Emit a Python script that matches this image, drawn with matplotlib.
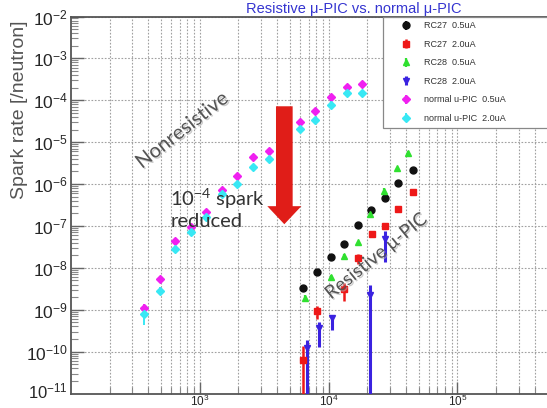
import matplotlib
matplotlib.use("Agg")
import matplotlib.pyplot as plt
from matplotlib.ticker import LogLocator, NullFormatter, FixedLocator, LogFormatterSciNotation
import matplotlib.patheffects as pe
import math

plt.rcParams['font.family'] = ['Liberation Sans', 'DejaVu Sans']
plt.rcParams['mathtext.default'] = 'regular'

# ---------------- data ----------------
# normal (non-resistive) u-PIC
x_norm = [370, 490, 645, 850, 1130, 1490, 1950, 2590, 3440, 6030, 7900, 10400, 13900, 18200]
y_norm05 = [1.1e-9, 5.3e-9, 4.4e-8, 9.2e-8, 2.2e-7, 7.2e-7, 1.6e-6, 4.4e-6, 6.0e-6,
            3.1e-5, 5.6e-5, 1.2e-4, 2.1e-4, 2.5e-4]
lo_norm05 = [8.0e-10, 4.6e-9, 4.4e-8, 9.2e-8, 2.2e-7, 7.2e-7, 1.6e-6, 4.4e-6, 6.0e-6,
             3.1e-5, 5.6e-5, 1.1e-4, 2.1e-4, 2.5e-4]
hi_norm05 = [1.4e-9, 6.0e-9, 4.4e-8, 9.2e-8, 2.2e-7, 7.2e-7, 1.6e-6, 4.4e-6, 6.0e-6,
             3.1e-5, 5.6e-5, 1.3e-4, 2.1e-4, 2.5e-4]
y_norm20 = [7.7e-10, 2.8e-9, 2.8e-8, 7.0e-8, 1.6e-7, 5.8e-7, 1.0e-6, 2.5e-6, 4.0e-6,
            2.1e-5, 3.3e-5, 7.9e-5, 1.5e-4, 1.5e-4]
lo_norm20 = [4.4e-10, 2.2e-9, 2.8e-8, 7.0e-8, 1.6e-7, 5.8e-7, 9.0e-7, 2.5e-6, 4.0e-6,
             2.1e-5, 3.3e-5, 6.5e-5, 1.5e-4, 1.3e-4]
hi_norm20 = [1.0e-9, 3.5e-9, 2.8e-8, 7.0e-8, 1.6e-7, 5.8e-7, 1.1e-6, 2.5e-6, 4.0e-6,
             2.1e-5, 3.3e-5, 9.5e-5, 1.5e-4, 1.7e-4]

# resistive u-PIC RC27
x_rc27_05 = [6340, 8130, 10450, 13100, 16800, 21300, 27500, 34900, 45100]
y_rc27_05 = [3.35e-9, 7.9e-9, 1.86e-8, 3.66e-8, 1.05e-7, 2.4e-7, 4.6e-7, 1.04e-6, 2.2e-6]
lo_rc27_05 = [3.0e-9, 7.9e-9, 1.86e-8, 3.66e-8, 8.7e-8, 2.4e-7, 4.6e-7, 1.04e-6, 2.2e-6]
hi_rc27_05 = [3.7e-9, 7.9e-9, 1.86e-8, 3.66e-8, 1.21e-7, 2.4e-7, 4.6e-7, 1.04e-6, 2.2e-6]

x_rc27_20 = [6340, 8130, 13100, 16800, 21700, 27500, 34900, 45100]
y_rc27_20 = [6.4e-11, 9.2e-10, 3.05e-9, 1.7e-8, 6.35e-8, 1.0e-7, 2.5e-7, 6.35e-7]
lo_rc27_20 = [1e-12, 5.9e-10, 1.6e-9, 1.25e-8, 6.35e-8, 1.0e-7, 2.5e-7, 6.35e-7]
hi_rc27_20 = [1.35e-10, 1.23e-9, 4.4e-9, 2.2e-8, 6.35e-8, 1.0e-7, 2.5e-7, 6.35e-7]

# resistive u-PIC RC28
x_rc28_05 = [6600, 10450, 13250, 16800, 21000, 27000, 33900, 41700]
y_rc28_05 = [1.93e-9, 6.15e-9, 1.92e-8, 4.16e-8, 1.92e-7, 6.95e-7, 2.4e-6, 5.4e-6]
lo_rc28_05 = [1.7e-9, 5.5e-9, 1.7e-8, 4.16e-8, 1.92e-7, 6.0e-7, 2.4e-6, 4.8e-6]
hi_rc28_05 = [2.2e-9, 6.8e-9, 2.2e-8, 4.16e-8, 1.92e-7, 8.0e-7, 2.4e-6, 6.0e-6]

x_rc28_20 = [6800, 8500, 10550, 21100, 27500]
y_rc28_20 = [1.22e-10, 3.7e-10, 6.4e-10, 2.3e-9, 5.0e-8]
lo_rc28_20 = [1e-12, 1.3e-10, 3.2e-10, 1e-12, 1.4e-8]
hi_rc28_20 = [1.9e-10, 5.1e-10, 7.4e-10, 4.0e-9, 7.5e-8]

labels = ["RC27  0.5uA", "RC27  2.0uA", "RC28  0.5uA", "RC28  2.0uA",
          "normal u-PIC  0.5uA", "normal u-PIC  2.0uA"]
x_major = [1e3, 1e4, 1e5]
y_major = [1e-10, 1e-9, 1e-8, 1e-7, 1e-6, 1e-5, 1e-4, 1e-3, 1e-2]
y_bottom_label = 1e-11

# ---------------- figure ----------------
fig = plt.figure(figsize=(5.47, 4.08), dpi=100)
ax = fig.add_axes([0.1293, 0.0355, 0.9426, 0.924])
ax.set_xscale('log')
ax.set_yscale('log')
ax.set_xlim(100, 1e6)
ax.set_ylim(1e-11, 1e-2)

ax.xaxis.set_major_locator(FixedLocator(x_major))
ax.yaxis.set_major_locator(FixedLocator(y_major))
ax.xaxis.set_major_formatter(LogFormatterSciNotation())
ax.yaxis.set_major_formatter(LogFormatterSciNotation())
ax.xaxis.set_minor_locator(LogLocator(base=10, subs=range(2, 10), numticks=20))
ax.yaxis.set_minor_locator(LogLocator(base=10, subs=range(2, 10), numticks=20))
ax.xaxis.set_minor_formatter(NullFormatter())
ax.yaxis.set_minor_formatter(NullFormatter())

ax.grid(True, which='major', axis='both', color='#a0a0a0', linestyle=(0, (1.5, 1.5)), linewidth=0.8)
ax.grid(True, which='minor', axis='x', color='#a0a0a0', linestyle=(0, (1.5, 1.5)), linewidth=0.8)
ax.set_axisbelow(True)

for s in ax.spines.values():
    s.set_color('#555555')
    s.set_linewidth(1.3)

ax.tick_params(which='major', direction='in', length=9, width=1.0, color='#666666',
               labelsize=12.5, labelcolor='#262626')
ax.tick_params(which='minor', direction='in', length=5, width=0.8, color='#888888')
ax.tick_params(axis='y', which='major', pad=2)
ax.tick_params(axis='x', which='major', pad=0.5, labelsize=8.5)

# lowest y label, kept inside the picture
fig.text(0.1241, 0.017, r'$10^{%d}$' % round(math.log10(y_bottom_label)),
         ha='right', va='bottom', fontsize=12, color='#262626')


def series(x, y, lo, hi, color, marker, ms, label, elw=1.6):
    yerr = [[yy - l for yy, l in zip(y, lo)], [h - yy for yy, h in zip(y, hi)]]
    ax.errorbar(x, y, yerr=yerr, fmt=marker, color=color, ms=ms, mec=color, mfc=color,
                elinewidth=elw, capsize=0, label=label, zorder=3)


series(x_norm, y_norm05, lo_norm05, hi_norm05, '#f020f0', 'D', 4.2, labels[4], 1.4)
series(x_norm, y_norm20, lo_norm20, hi_norm20, '#38e8f4', 'D', 4.2, labels[5], 1.4)
series(x_rc27_05, y_rc27_05, lo_rc27_05, hi_rc27_05, '#111111', 'o', 5.0, labels[0])
series(x_rc28_05, y_rc28_05, lo_rc28_05, hi_rc28_05, '#30e030', '^', 5.0, labels[2])
series(x_rc27_20, y_rc27_20, lo_rc27_20, hi_rc27_20, '#ee1818', 's', 5.0, labels[1], 1.8)
series(x_rc28_20, y_rc28_20, lo_rc28_20, hi_rc28_20, '#3a22e0', 'v', 5.0, labels[3], 2.2)

# legend in original order
h, l = ax.get_legend_handles_labels()
order = [labels.index(t) for t in l]
pairs = sorted(zip(order, h, l))
leg = ax.legend([p[1] for p in pairs], [p[2] for p in pairs], loc='upper left',
                bbox_to_anchor=(0.6063, 0.5, 0.38, 0.5), mode='expand',
                fontsize=6.5, frameon=True, fancybox=False, framealpha=1,
                edgecolor='#888888', borderpad=0.55, labelspacing=1.05,
                handlelength=4.0, handletextpad=0.0, borderaxespad=0.0, numpoints=1)
leg.get_frame().set_linewidth(0.9)
for t in leg.get_texts():
    t.set_color('#333333')

# arrow
ax.annotate('', xy=(4540, 1.1e-7), xytext=(4540, 7.2e-5),
            arrowprops=dict(arrowstyle='simple,head_length=13,head_width=24.5,tail_width=12',
                            mutation_scale=1, color='#e01d18', lw=0, shrinkA=0, shrinkB=0),
            zorder=4)

# annotations
ax.text(593, 2.6e-7, '10$^{-4}$ spark\nreduced', fontsize=14.5, color='#333333',
        family=['Lato', 'DejaVu Sans'], va='center', ha='left', linespacing=1.15, zorder=5)
ax.text(735, 1.9e-5, 'Nonresistive', fontsize=14.5, color='#555555', rotation=38,
        family=['Lato', 'DejaVu Sans'], va='center', ha='center', zorder=5,
        path_effects=[pe.withSimplePatchShadow(offset=(1, -1), shadow_rgbFace='#aaaaaa', alpha=0.6)])
ax.text(23400, 1.9e-8, 'Resistive μ-PIC', fontsize=13.5, color='#555555', rotation=39,
        family=['Lato', 'DejaVu Sans'], va='center', ha='center', zorder=5,
        path_effects=[pe.withSimplePatchShadow(offset=(1, -1), shadow_rgbFace='#aaaaaa', alpha=0.6)])

fig.text(0.035, 0.73, 'Spark rate [/neutron]', rotation=90, fontsize=14, color='#555555',
         ha='center', va='center')

fig.text(246 / 547, 1 - 1.5 / 408, 'Resistive μ-PIC vs. normal μ-PIC', fontsize=10.5,
         color='#3535d0', ha='left', va='top')

fig.savefig('out.png', dpi=100)
